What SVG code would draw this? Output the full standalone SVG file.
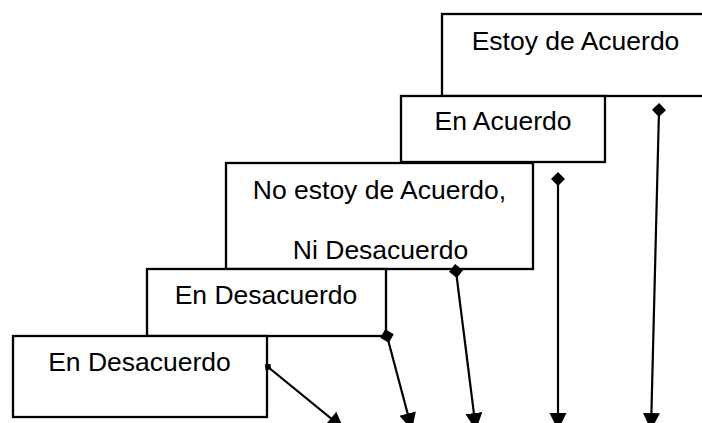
<svg xmlns="http://www.w3.org/2000/svg" width="702" height="423" viewBox="0 0 702 423">
<style>
.box{fill:#fff;stroke:#000;stroke-width:2.3}
.lbl{font-family:"Liberation Sans",Arial,sans-serif;font-size:26.5px;fill:#000;text-anchor:middle}
.con{stroke:#000;stroke-width:2.2;fill:none}
</style>
<defs>
<marker id="dia" markerUnits="userSpaceOnUse" markerWidth="16" markerHeight="16" refX="8" refY="8" orient="auto" viewBox="0 0 16 16">
<path d="M1,8 L8,1 L15,8 L8,15 Z" fill="#000"/>
</marker>
<marker id="dias" markerUnits="userSpaceOnUse" markerWidth="10" markerHeight="10" refX="5" refY="5" orient="auto" viewBox="0 0 10 10">
<path d="M1,5 L5,1 L9,5 L5,9 Z" fill="#000"/>
</marker>
<marker id="arr" markerUnits="userSpaceOnUse" markerWidth="18" markerHeight="18" refX="17" refY="9" orient="auto" viewBox="0 0 18 18">
<path d="M0,0.5 L17,9 L0,17.5 Z" fill="#000"/>
</marker>
</defs>
<rect width="702" height="423" fill="#fff"/>
<g id="n1"><rect class="box" x="442" y="14" width="270" height="82"/><text class="lbl" x="575.5" y="50">Estoy de Acuerdo</text></g>
<g id="n2"><rect class="box" x="401" y="96" width="204" height="66"/><text class="lbl" x="503" y="130">En Acuerdo</text></g>
<g id="n3"><rect class="box" x="226" y="163" width="307" height="106"/><text class="lbl" x="379.5" y="199">No estoy de Acuerdo,</text><text class="lbl" x="380.5" y="259">Ni Desacuerdo</text></g>
<g id="n4"><rect class="box" x="147" y="269" width="239" height="67"/><text class="lbl" x="266" y="304">En Desacuerdo</text></g>
<g id="n5"><rect class="box" x="13" y="336" width="254" height="81"/><text class="lbl" x="139.5" y="371">En Desacuerdo</text></g>
<g id="connectors">
<line class="con" x1="659" y1="110" x2="651" y2="430" marker-start="url(#dia)" marker-end="url(#arr)"/>
<line class="con" x1="558" y1="179" x2="558" y2="430" marker-start="url(#dia)" marker-end="url(#arr)"/>
<line class="con" x1="456" y1="271" x2="476" y2="430" marker-start="url(#dia)" marker-end="url(#arr)"/>
<line class="con" x1="387" y1="336" x2="412" y2="430" marker-start="url(#dia)" marker-end="url(#arr)"/>
<line class="con" x1="268" y1="367" x2="344" y2="429" marker-start="url(#dias)" marker-end="url(#arr)"/>
</g>
</svg>
